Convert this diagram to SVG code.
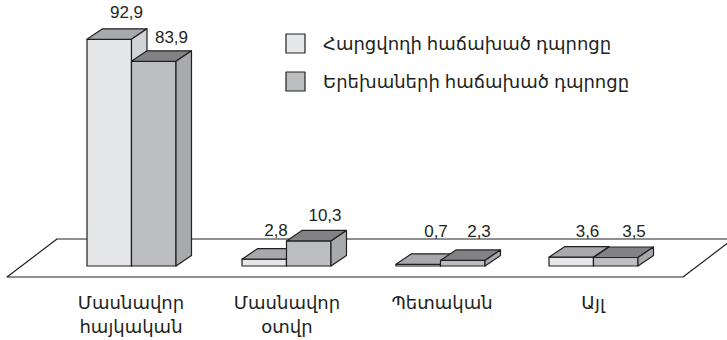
<svg xmlns="http://www.w3.org/2000/svg" width="727" height="340" viewBox="0 0 727 340">
<style>
.ln{stroke:#231f20;stroke-width:1.2;stroke-linejoin:round}
.lf{fill:#e6e7e8}.lt{fill:#a7a9ac}.ls{fill:#d1d3d4}
.df{fill:#bcbec0}.dt{fill:#808285}.ds{fill:#a7a9ac}
text{font-family:"Liberation Sans","DejaVu Sans",sans-serif;fill:#231f20}
.v{font-size:17px;text-anchor:middle}
.c{font-size:18px;text-anchor:middle}
.lg{font-size:18px}
</style>
<rect width="727" height="340" fill="#fff"/>
<g id="floor">
<polygon class="ln" fill="#fff" points="7,277 57,239 733,239 683,277"/>
</g>
<g id="bar-1a">
<rect class="ln lf" x="87" y="39.3" width="44.5" height="226.7"/>
<polygon class="ln lt" points="87,39.3 102.5,28.8 147,28.8 131.5,39.3"/>
<polygon class="ln ls" points="131.5,39.3 147,28.8 147,255.5 131.5,266"/>
</g>
<g id="bar-1b">
<rect class="ln df" x="131.5" y="61.3" width="44.5" height="204.7"/>
<polygon class="ln dt" points="131.5,61.3 147,50.8 191.5,50.8 176,61.3"/>
<polygon class="ln ds" points="176,61.3 191.5,50.8 191.5,255.5 176,266"/>
</g>
<g id="bar-2a">
<rect class="ln lf" x="242" y="259.2" width="44.5" height="6.8"/>
<polygon class="ln lt" points="242,259.2 257.5,248.7 302,248.7 286.5,259.2"/>
<polygon class="ln ls" points="286.5,259.2 302,248.7 302,255.5 286.5,266"/>
</g>
<g id="bar-2b">
<rect class="ln df" x="286.5" y="240.9" width="44.5" height="25.1"/>
<polygon class="ln dt" points="286.5,240.9 302,230.4 346.5,230.4 331,240.9"/>
<polygon class="ln ds" points="331,240.9 346.5,230.4 346.5,255.5 331,266"/>
</g>
<g id="bar-3a">
<rect class="ln lf" x="396" y="264.3" width="44.5" height="1.7"/>
<polygon class="ln lt" points="396,264.3 411.5,253.8 456,253.8 440.5,264.3"/>
<polygon class="ln ls" points="440.5,264.3 456,253.8 456,255.5 440.5,266"/>
</g>
<g id="bar-3b">
<rect class="ln df" x="440.5" y="260.4" width="44.5" height="5.6"/>
<polygon class="ln dt" points="440.5,260.4 456,249.9 500.5,249.9 485,260.4"/>
<polygon class="ln ds" points="485,260.4 500.5,249.9 500.5,255.5 485,266"/>
</g>
<g id="bar-4a">
<rect class="ln lf" x="549" y="257.2" width="44.5" height="8.8"/>
<polygon class="ln lt" points="549,257.2 564.5,246.7 609,246.7 593.5,257.2"/>
<polygon class="ln ls" points="593.5,257.2 609,246.7 609,255.5 593.5,266"/>
</g>
<g id="bar-4b">
<rect class="ln df" x="593.5" y="257.5" width="44.5" height="8.5"/>
<polygon class="ln dt" points="593.5,257.5 609,247 653.5,247 638,257.5"/>
<polygon class="ln ds" points="638,257.5 653.5,247 653.5,255.5 638,266"/>
</g>
<g id="values">
<text class="v" x="126.5" y="18">92,9</text>
<text class="v" x="171.5" y="43">83,9</text>
<text class="v" x="276" y="236">2,8</text>
<text class="v" x="325" y="221">10,3</text>
<text class="v" x="436" y="237">0,7</text>
<text class="v" x="479" y="237">2,3</text>
<text class="v" x="587.5" y="237">3,6</text>
<text class="v" x="634" y="237">3,5</text>
</g>
<g id="categories">
<text class="c" x="131" y="309">Մասնավոր</text>
<text class="c" x="131" y="333">հայկական</text>
<text class="c" x="287" y="309">Մասնավոր</text>
<text class="c" x="287" y="333">օտվր</text>
<text class="c" x="442" y="309">Պետական</text>
<text class="c" x="593" y="309">Այլ</text>
</g>
<g id="legend">
<rect class="ln lf" x="286" y="34" width="19" height="19"/>
<text class="lg" x="323" y="50">Հարցվողի հաճախած դպրոցը</text>
<rect class="ln df" x="286" y="72" width="19" height="19"/>
<text class="lg" x="323" y="88">Երեխաների հաճախած դպրոցը</text>
</g>
</svg>
